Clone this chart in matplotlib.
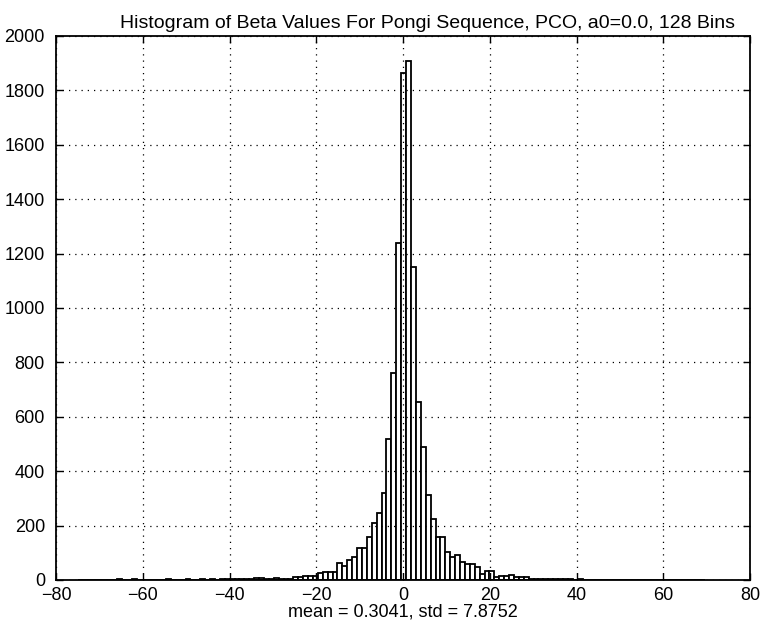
import numpy as np
import matplotlib
matplotlib.use('Agg')
import matplotlib.pyplot as plt

plt.rcParams['font.family'] = ['Liberation Sans', 'DejaVu Sans']

# histogram: 128 bins, left edge and width
bin_left = -75.0
bin_width = 1.13

# counts per bin
counts_left_tail = [1, 0, 1, 0, 1, 1, 0, 1, 2, 1,
                    1, 2, 1, 1, 0, 1, 1, 1, 2, 1,
                    1, 1, 2, 1, 1, 2, 1, 2, 1, 2,
                    2, 2, 2, 2, 2, 4, 7, 7, 3, 3,
                    7, 4, 5, 5, 12, 12]
counts_center = [16, 16, 16, 25, 31, 31, 31, 64, 51, 74,
                 86, 117, 119, 159, 208, 245, 321, 517, 760, 1238,
                 1864, 1907, 1152, 656, 490, 312, 224, 159, 157, 104,
                 83, 91, 66, 60, 60, 48, 21, 32, 32, 10,
                 15, 15]
counts_right_tail = [20, 10, 12, 10, 5, 4, 3, 3, 3, 2,
                     2, 2, 2, 1, 2, 1, 1, 1, 1, 0,
                     1, 0, 1, 1, 0, 1, 0, 1, 0, 0,
                     1, 0, 0, 1, 0, 0, 1, 0, 1, 1]
counts = np.array(counts_left_tail + counts_center + counts_right_tail)

xticks = [-80, -60, -40, -20, 0, 20, 40, 60, 80]
yticks = [0, 200, 400, 600, 800, 1000, 1200, 1400, 1600, 1800, 2000]

centers = bin_left + (np.arange(len(counts)) + 0.5) * bin_width

fig = plt.figure(figsize=(7.61, 6.30), dpi=100)
ax = fig.add_axes([0.0736, 0.0794, 0.912, 0.8635])

ax.bar(centers, counts, width=bin_width, facecolor='white',
       edgecolor='black', linewidth=1.3, zorder=1)

ax.set_xlim(-80, 80)
ax.set_ylim(0, 2000)
ax.set_xticks(xticks)
ax.set_yticks(yticks)
ax.set_xticklabels([str(v).replace('-', '\u2212') for v in xticks])
ax.tick_params(direction='in', labelsize=13, length=5, width=1, top=True, right=True)
ax.tick_params(axis='y', pad=8)
ax.tick_params(axis='x', pad=5)
ax.grid(True, linestyle=(0, (1, 4)), color='black', linewidth=0.9)
ax.set_axisbelow(False)
for s in ax.spines.values():
    s.set_linewidth(1.3)

ax.set_title('Histogram of Beta Values For Pongi Sequence, PCO, a0=0.0, 128 Bins',
             fontsize=14, pad=6, x=0.535)
ax.set_xlabel('mean = 0.3041, std = 7.8752', fontsize=13, labelpad=0)

fig.savefig('out.png', dpi=100)
